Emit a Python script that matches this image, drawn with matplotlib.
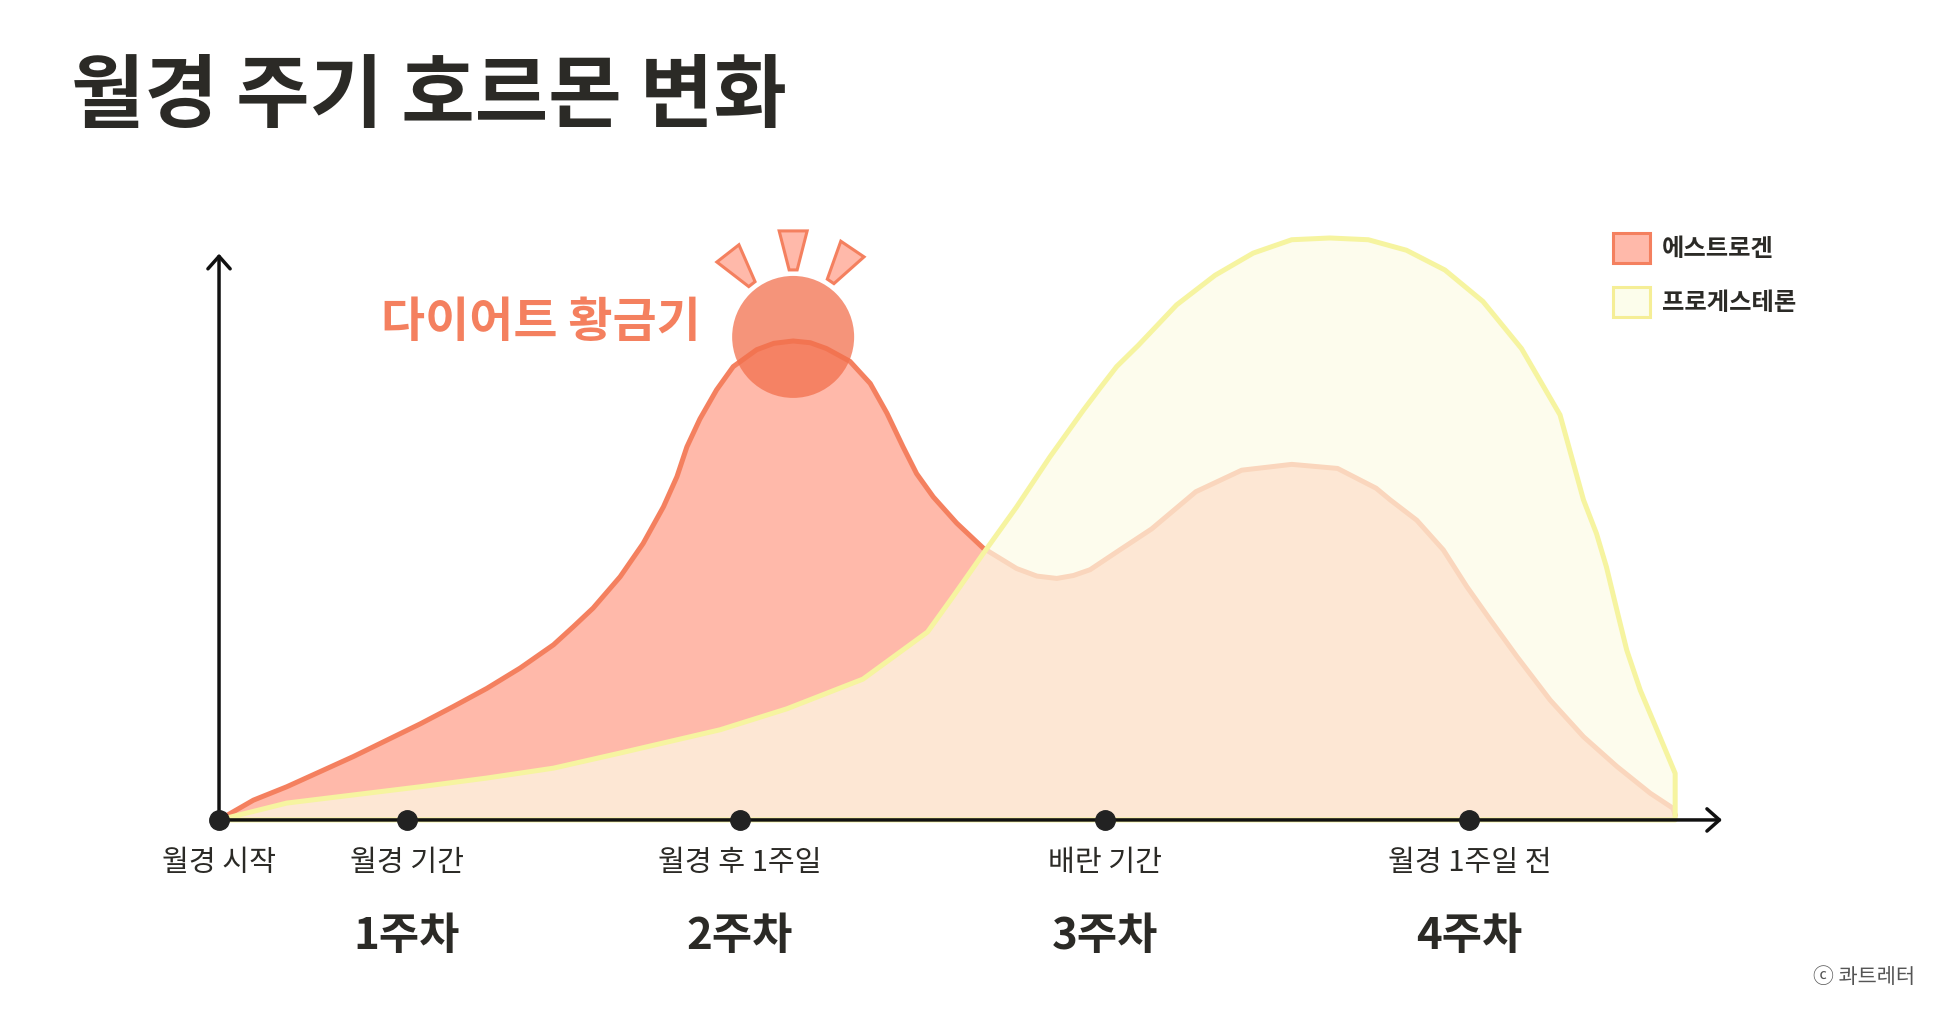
import numpy as np
import matplotlib
matplotlib.use('Agg')
import matplotlib.pyplot as plt
import matplotlib.transforms as mtransforms
from matplotlib.patches import Polygon, Circle, Patch

plt.rcParams['font.family'] = ['Noto Sans CJK KR', 'DejaVu Sans']

# day of the cycle and relative hormone level
estrogen_day = [0, 0.66, 1.30, 1.94, 2.58, 3.22, 3.86, 4.50, 5.14, 5.78, 6.42, 6.80,
                7.18, 7.70, 8.14, 8.53, 8.79, 8.98, 9.23, 9.55, 9.87, 10.32, 10.65,
                11.02, 11.35, 11.66, 12.11, 12.50, 12.82, 13.13, 13.39, 13.71, 14.16,
                14.67, 15.31, 15.70, 16.08, 16.40, 16.72, 17.29, 17.90, 18.75, 19.63,
                20.59, 21.47, 22.21, 22.48, 22.99, 23.50, 23.95, 24.40, 24.91, 25.55,
                26.19, 26.83, 27.47, 27.91, 27.95]
estrogen_level = [0, 3.4, 5.7, 8.3, 10.9, 13.7, 16.5, 19.5, 22.6, 26.1, 30.1, 33.2,
                  36.4, 41.8, 47.5, 53.8, 59.0, 64.1, 68.9, 73.9, 77.9, 80.8, 81.9,
                  82.3, 82.0, 81.0, 78.8, 75.0, 69.9, 64.1, 59.5, 55.5, 51.0,
                  46.7, 43.2, 41.9, 41.5, 42.0, 43.0, 46.4, 50.0, 56.4, 60.1,
                  61.1, 60.4, 57.0, 55.0, 51.5, 46.4, 40.1, 34.4, 28.1, 20.6,
                  14.3, 9.2, 4.6, 2.0, 0.8]

progesterone_day = [0, 1.30, 2.58, 3.86, 5.14, 6.42, 7.70, 8.66, 9.62, 10.9, 12.36,
                    13.6, 14.09, 14.67, 15.31, 15.95, 16.59, 16.91, 17.23, 17.65, 18.38,
                    19.12, 19.85, 20.59, 21.32, 22.06, 22.79, 23.53, 24.26, 25.0, 25.74,
                    26.19, 26.44, 26.63, 26.83, 27.02, 27.28, 27.60, 27.95, 27.95]
progesterone_level = [0, 2.9, 4.3, 5.7, 7.2, 8.9, 11.5, 13.5, 15.5, 19.1, 24.2,
                      32.3, 38.4, 45.8, 53.8, 62.4, 70.4, 74.2, 77.9, 81.6, 88.5,
                      93.6, 97.4, 99.7, 100.0, 99.7, 97.9, 94.5, 89.1, 81.0, 69.6,
                      55.0, 49.2, 43.5, 36.1, 29.2, 22.3, 15.5, 8.0, 0]

phase_day = [0, 3.6, 10, 17, 24]
phase_labels = ['월경 시작', '월경 기간', '월경 후 1주일', '배란 기간', '월경 1주일 전']
week_day = [3.6, 10, 17, 24]
week_labels = ['1주차', '2주차', '3주차', '4주차']

peak_day = 11.02
peak_level = 83.0
peak_label = '다이어트 황금기'

title = '월경 주기 호르몬 변화'
legend_labels = ['에스트로겐', '프로게스테론']

DARK = '#2b2a26'
CORAL = '#f4805f'
SALMON = '#ffb9aa'
YELLOW = '#f6f4a0'

fig = plt.figure(figsize=(19.53, 10.17), dpi=100)
fig.patch.set_facecolor('white')
ax = fig.add_axes([0.0588, 0.1251, 0.8803, 0.6695])
ax.set_xlim(-2, 31)
ax.set_ylim(-12, 105)
ax.axis('off')

# estrogen: opaque fill with coral outline
ax.fill_between(estrogen_day, 0, estrogen_level, color=SALMON, lw=0, zorder=1)
ax.plot(estrogen_day, estrogen_level, color=CORAL, lw=3.6, zorder=2,
        solid_capstyle='round', solid_joinstyle='round')

# progesterone: translucent pale fill drawn over estrogen
ax.fill(progesterone_day, progesterone_level,
        facecolor=(253 / 255, 252 / 255, 230 / 255, 0.7),
        edgecolor=YELLOW, lw=3.6, joinstyle='round', zorder=3)

# axes with open arrow heads
arrow = dict(arrowstyle='->,head_length=0.45,head_width=0.4', lw=2.5, color='#111111',
             shrinkA=0, shrinkB=0, mutation_scale=20)
ax.annotate('', xy=(28.85, 0), xytext=(0, 0), arrowprops=arrow, zorder=5)
ax.annotate('', xy=(0, 97.3), xytext=(0, 0), arrowprops=arrow, zorder=5)

ax.plot(phase_day, [0] * len(phase_day), 'o', ms=14, color='#222222', zorder=6,
        clip_on=False)

for d, lab in zip(phase_day, phase_labels):
    ax.text(d, -7.4, lab, ha='center', va='center', fontsize=21, weight='medium',
            color=DARK)
for d, lab in zip(week_day, week_labels):
    ax.text(d, -19.9, lab, ha='center', va='center', fontsize=31.5, weight='bold',
            color=DARK)

# highlight around the estrogen peak (sizes in pixels)
peak = mtransforms.ScaledTranslation(peak_day, peak_level, ax.transData)
ax.add_patch(Circle((0, 0), 61, transform=peak, facecolor='#f2704d', alpha=0.75,
                    edgecolor='none', zorder=4))
for ang in [128, 90, 56]:
    u = np.array([np.cos(np.radians(ang)), np.sin(np.radians(ang))])
    n = np.array([-u[1], u[0]])
    inner, outer = 67 * u, 106 * u
    verts = [inner - 4 * n, inner + 4 * n, outer + 14 * n, outer - 14 * n]
    ax.add_patch(Polygon(verts, closed=True, transform=peak, facecolor=SALMON,
                         edgecolor=CORAL, lw=2.2, joinstyle='miter', zorder=4))

ax.text(9.25, 85.4, peak_label, ha='right', va='center', fontsize=34.5, weight='bold',
        color=CORAL)

fig.text(0.0364, 0.9046, title, ha='left', va='center', fontsize=57.5, weight='bold',
         color=DARK)

handles = [Patch(facecolor=SALMON, edgecolor=CORAL, lw=2.2),
           Patch(facecolor='#fcfdeb', edgecolor='#f5ee96', lw=2.2)]
fig.legend(handles, legend_labels, loc='upper left', bbox_to_anchor=(0.8259, 0.7709),
           bbox_transform=fig.transFigure, frameon=False,
           handlelength=1.52, handleheight=1.52, handletextpad=0.5, labelspacing=0.97,
           borderpad=0, borderaxespad=0, labelcolor=DARK,
           prop={'weight': 'bold', 'size': 17.5})

fig.text(0.9805, 1 - 977 / 1017, 'ⓒ 콰트레터', ha='right', va='center', fontsize=15,
         color='#555555')

fig.savefig('out.png', dpi=100)
